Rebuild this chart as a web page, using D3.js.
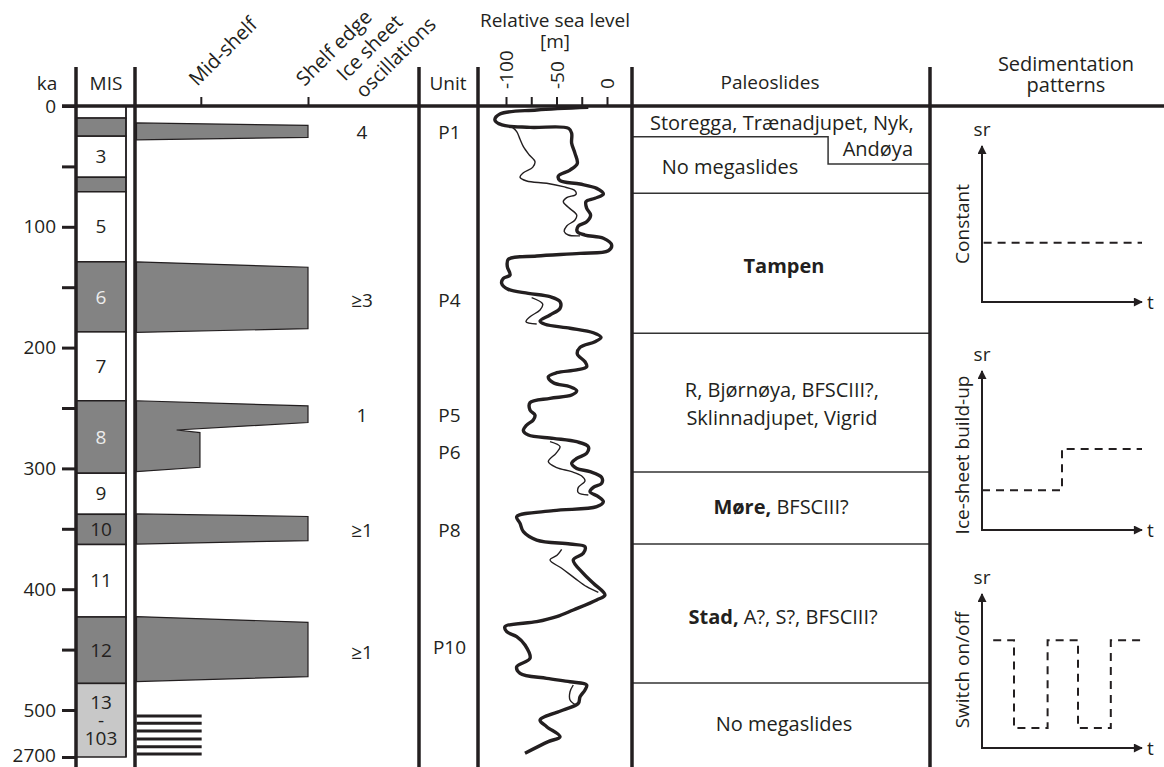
<!DOCTYPE html>
<html>
<head>
<meta charset="utf-8">
<title>Ice sheet, sea level and paleoslides</title>
<style>
  body { margin: 0; background: #fff; }
  text { font-family: "Open Sans", sans-serif; fill: #231f20; }
</style>
</head>
<body>
<div id="chart"></div>
<script src="https://cdnjs.cloudflare.com/ajax/libs/d3/7.8.5/d3.min.js"></script>
<script>

// ---- data ----

// age axis (ka)
var kaTicks = [0, 100, 200, 300, 400, 500, 2700];
var kaMinorTicks = [50, 150, 250, 350, 450];

// marine isotope stages: boundaries (ka), labels, glacial flag
var misBounds = [0, 10, 25, 59, 71, 129, 187, 244, 304, 338, 363, 423, 478, 2700];
var misLabels = ["", "", "3", "", "5", "6", "7", "8", "9", "10", "11", "12", "13|-|103"];
var misKind = ["warm", "cold", "warm", "cold", "warm", "cold", "warm", "cold", "warm", "cold", "warm", "cold", "old"];

// ice sheet extent (0 = inner shelf, 100 = shelf edge) vs ka
var extentTicks = [37.5, 100];
var extentTickLabels = ["Mid-shelf", "Shelf edge"];
var iceExtent = [
  [[0, 14], [100, 16], [100, 26], [0, 28]],
  [[0, 129], [100, 133.5], [100, 184.3], [0, 187.4]],
  [[0, 244], [100, 248.3], [100, 262], [23.4, 268.2], [37, 270.4], [37, 299.1], [0, 302.7]],
  [[0, 337.7], [100, 339.8], [100, 359.8], [0, 362.6]],
  [[0, 422.7], [100, 427.4], [100, 472.4], [0, 476.5]]
];
var olderGlaciations = [780, 1120, 1480, 1860, 2220, 2560];
var olderExtent = 38;

var oscLabels = ["4", "\u22653", "1", "\u22651", "\u22651"];
var oscKa = [22, 160.5, 256, 351, 452];

var unitLabels = ["P1", "P4", "P5", "P6", "P8", "P10"];
var unitKa = [22, 160.5, 256, 286.5, 351.5, 448];

// relative sea level [ka, m]
var seaLevelTicks = [-100, -75, -50, -25, 0];
var seaLevelMain = [
  [1.1, -18.5], [3.3, -69.6], [6.6, -106], [11.6, -111], [15.7, -104], [17.7, -76], [18.5, -38],
  [22.6, -35], [30.9, -35], [39.2, -31.7], [47.5, -29.4], [53, -36.6], [58, -48.2], [61.8, -46.5],
  [64.6, -26.7], [68.2, -10.2], [72.8, -3.6], [76.4, -11.9], [79.2, -20.8], [84.7, -20.1],
  [90.2, -16.2], [95.8, -20.1], [99.3, -28.4], [104, -29.4], [106.8, -21.8], [109.5, -3.6],
  [115.1, 4.6], [119.8, 1.3], [122, -26.7], [124.2, -69.6], [126.9, -97.7], [133, -98.7],
  [139.9, -96], [142.7, -102.6], [146.8, -104.3], [151.8, -97.7], [155.1, -77.9], [157.9, -56.4],
  [162, -46.5], [167.5, -46.5], [173, -56.4], [178, -66.3], [180.7, -61.4], [184, -36.6],
  [187.7, -13.5], [191.5, -5.9], [195.1, -11.9], [199.8, -26.7], [205.3, -29.4], [211.7, -21.8],
  [215.8, -20.1], [218.5, -30], [220.8, -49.8], [224.1, -58.1], [229.1, -53.1], [232.4, -36.6],
  [235.7, -30], [239.2, -35], [242, -56.4], [245.6, -76.2], [251.7, -76.2], [255.8, -71.3],
  [259.9, -73], [264.1, -79.5], [268.8, -82.8], [272.4, -77.9], [275.1, -53.1], [277.9, -30],
  [282, -18.5], [287.5, -20.1], [291.7, -30], [295.8, -35], [300, -30], [302.7, -16.8],
  [307.4, -5.3], [312.4, -5.3], [315.7, -13.5], [319.3, -16.8], [323.4, -8.6], [327.5, -3.6],
  [331.7, -10.2], [335, -53.1], [340, -89.4], [345.5, -86.1], [352.4, -82.8], [359.3, -69.6],
  [362.6, -36.6], [364.8, -21.8], [370.3, -23.5], [375.8, -33.4], [386.9, -23.5], [395.1, -13.5],
  [404.8, -2], [408.9, -10.2], [417.2, -33.4], [422.7, -49.8], [426.9, -69.6], [431, -101],
  [435.2, -99.3], [439.3, -89.4], [446.2, -81.2], [457.2, -76.2], [464.2, -89.4], [469.6, -86.1],
  [473.8, -59.7], [476.6, -36.6], [479.3, -20.1], [483.4, -21.8], [489, -26.7], [494.5, -28.4],
  [500, -43.3], [508.3, -66.3], [513.8, -59.7], [522.1, -46.5], [526.2, -58.1], [535.8, -81.2]
];
// second record, drawn in pieces (null = gap)
var seaLevelAlt = [
  [17.1, -94.4], [21.2, -89.4], [27.6, -86.1], [33.7, -82.8], [40.6, -76.9], [46.1, -71.3],
  [50.8, -73.6], [55.2, -82.8], [59, -86.1], [62.1, -79.5], [64, -59.7], [66.8, -43.3],
  [70.1, -31.7], [73.1, -30.7], [75.9, -39.9], [79.2, -43.3], [83.9, -38.3], [90.2, -30],
  [94.4, -31.7], [99.3, -39.9], [104, -42.3], [106.8, -38.3], [107.5, -26.7],
  null,
  [158.7, -74.6], [163.9, -63.7], [168.9, -66.3], [174.4, -76.2], [178.6, -80.2], [180.5, -69.6],
  null,
  [277.9, -56.4], [282, -46.5], [287.5, -50.5], [294.4, -58.1], [299.4, -49.8], [302.7, -35],
  [306.3, -25], [310.4, -21.8], [315.7, -28.4], [320.1, -28.4], [322, -18.5],
  null,
  [367, -44.9], [371.7, -49.2], [375.8, -56.4], [382.7, -44.9], [391, -31.7], [397.9, -20.1],
  [402.6, -8.6],
  null,
  [479.3, -33.4], [484.9, -36.6], [491.7, -36.6], [495.9, -30.7]
];

// paleoslides
var slideNames = ["Storegga, Tr\u00e6nadjupet, Nyk,", "And\u00f8ya", "No megaslides", "Tampen",
  "R, Bj\u00f8rn\u00f8ya, BFSCIII?,", "Sklinnadjupet, Vigrid", "M\u00f8re, BFSCIII?",
  "Stad, A?, S?, BFSCIII?", "No megaslides"];
var slideBold = ["", "", "", "Tampen", "", "", "M\u00f8re,", "Stad,", ""];
var slideKa = [19.9, 41.4, 56.3, 138.2, 240.9, 264.1, 337.7, 428.8, 517.4];
var slideBounds = [72.3, 188.2, 303, 362.6, 477.6];
var slideStep = [[0, 25.4], [0.658, 25.4], [0.658, 48], [1, 48]];

// sedimentation pattern sketches [t, sr]
var sedTitles = ["Constant", "Ice-sheet build-up", "Switch on/off"];
var sedConstant = [[0.1, 3.8], [10, 3.8]];
var sedBuildUp = [[0, 2.5], [5, 2.5], [5, 5.1], [10, 5.1]];
var sedSwitch = [[0.7, 7], [2, 7], [2, 1.3], [4.1, 1.3], [4.1, 7], [6, 7], [6, 1.3], [8.05, 1.3], [8.05, 7], [10, 7]];

// ---- layout ----
var W = 1164, H = 767;
var ink = "#231f20";
var fs = 19;

var colKa = 76, colMisR = 126, colIce = 135, colUnit = 419, colSea = 478, colSlide = 632, colSed = 930;
var headTop = 67;

var svg = d3.select("#chart").append("svg")
  .attr("width", W)
  .attr("height", H);

var kaAxisScale = d3.scaleLinear().domain([0, 500, 2700]).range([106, 710, 757]);
var kaLin = d3.scaleLinear().domain([0, 500]).range([106, 710]);
var extentX = d3.scaleLinear().domain([0, 100]).range([136.5, 308]);
var seaX = d3.scaleLinear().domain([-100, 0]).range([506, 607]);
var slideX = d3.scaleLinear().domain([0, 1]).range([colSlide, colSed]);

// MIS column
var misG = svg.append("g");
var misCells = misKind.map(function (k, i) {
  return { kind: k, label: misLabels[i], top: misBounds[i], bottom: misBounds[i + 1] };
});
misG.selectAll("rect")
  .data(misCells)
  .enter().append("rect")
  .attr("x", colKa)
  .attr("width", colMisR - colKa)
  .attr("y", function (d) { return kaAxisScale(d.top); })
  .attr("height", function (d) { return kaAxisScale(d.bottom) - kaAxisScale(d.top); })
  .attr("fill", function (d) { return d.kind === "cold" ? "#838383" : d.kind === "old" ? "#c8c8c8" : "#fff"; })
  .attr("stroke", ink)
  .attr("stroke-width", 1.5);

misG.selectAll("text")
  .data(misCells.filter(function (d) { return d.label; }))
  .enter().append("text")
  .attr("x", (colKa + colMisR) / 2)
  .attr("y", function (d) { return (kaAxisScale(d.top) + kaAxisScale(d.bottom)) / 2; })
  .attr("text-anchor", "middle")
  .attr("dy", "0.35em")
  .style("font-size", fs + "px")
  .style("fill", function (d) { return (d.label === "6" || d.label === "8") ? "#ececec" : ink; })
  .each(function (d) {
    var parts = d.label.split("|");
    if (parts.length === 1) { d3.select(this).text(d.label); return; }
    var t = d3.select(this);
    parts.forEach(function (p, j) {
      t.append("tspan").attr("x", (colKa + colMisR) / 2)
        .attr("y", (kaAxisScale(d.top) + kaAxisScale(d.bottom)) / 2 + (j - 1) * 18)
        .attr("dy", "0.35em")
        .text(p);
    });
  });

// ice sheet extent bars
var bar = d3.line().x(function (d) { return extentX(d[0]); }).y(function (d) { return kaLin(d[1]); });
svg.append("g").selectAll("path")
  .data(iceExtent)
  .enter().append("path")
  .attr("d", function (d) { return bar(d) + "Z"; })
  .attr("fill", "#838383")
  .attr("stroke", ink)
  .attr("stroke-width", 1.2);

svg.append("g").selectAll("line")
  .data(olderGlaciations)
  .enter().append("line")
  .attr("x1", extentX(0)).attr("x2", extentX(olderExtent))
  .attr("y1", function (d) { return kaAxisScale(d); })
  .attr("y2", function (d) { return kaAxisScale(d); })
  .attr("stroke", ink)
  .attr("stroke-width", 3);

// oscillation counts and units
svg.append("g").selectAll("text")
  .data(oscLabels)
  .enter().append("text")
  .attr("x", 362)
  .attr("y", function (d, i) { return kaLin(oscKa[i]); })
  .attr("dy", "0.35em")
  .attr("text-anchor", "middle")
  .style("font-size", fs + "px")
  .text(function (d) { return d; });

svg.append("g").selectAll("text")
  .data(unitLabels)
  .enter().append("text")
  .attr("x", (colUnit + colSea) / 2 + 1)
  .attr("y", function (d, i) { return kaLin(unitKa[i]); })
  .attr("dy", "0.35em")
  .attr("text-anchor", "middle")
  .style("font-size", fs + "px")
  .text(function (d) { return d; });

// relative sea level curves
var seaLine = d3.line()
  .defined(function (d) { return d !== null; })
  .x(function (d) { return seaX(d[1]); })
  .y(function (d) { return kaLin(d[0]); })
  .curve(d3.curveCatmullRom.alpha(0.5));

svg.append("path")
  .datum(seaLevelAlt)
  .attr("d", seaLine)
  .attr("fill", "none")
  .attr("stroke", ink)
  .attr("stroke-width", 1.4);

svg.append("path")
  .datum(seaLevelMain)
  .attr("d", seaLine)
  .attr("fill", "none")
  .attr("stroke", ink)
  .attr("stroke-width", 3.4)
  .attr("stroke-linejoin", "round");

// paleoslide dividers and names
svg.append("g").selectAll("line")
  .data(slideBounds)
  .enter().append("line")
  .attr("x1", colSlide).attr("x2", colSed)
  .attr("y1", function (d) { return kaLin(d); })
  .attr("y2", function (d) { return kaLin(d); })
  .attr("stroke", "#333")
  .attr("stroke-width", 1.5);

svg.append("path")
  .datum(slideStep)
  .attr("d", d3.line().x(function (d) { return slideX(d[0]); }).y(function (d) { return kaLin(d[1]); }))
  .attr("fill", "none")
  .attr("stroke", "#333")
  .attr("stroke-width", 1.5);

var slideTextX = [0.503, 0.943, 0.329, 0.51, 0.503, 0.503, 0.5, 0.507, 0.51];
var slideTextAnchor = ["middle", "end", "middle", "middle", "middle", "middle", "middle", "middle", "middle"];
svg.append("g").selectAll("text")
  .data(slideNames)
  .enter().append("text")
  .attr("x", function (d, i) { return slideX(slideTextX[i]); })
  .attr("y", function (d, i) { return kaLin(slideKa[i]); })
  .attr("text-anchor", function (d, i) { return slideTextAnchor[i]; })
  .style("font-size", "20px")
  .each(function (d, i) {
    var t = d3.select(this);
    var b = slideBold[i];
    if (b) t.append("tspan").style("font-weight", "bold").text(b);
    var rest = d.slice(b.length);
    if (rest) t.append("tspan").text(rest);
  });

// ---- frame ----
var frame = svg.append("g").attr("stroke", ink).attr("stroke-width", 3.5);
frame.append("line").attr("x1", 62).attr("x2", W).attr("y1", kaAxisScale(0)).attr("y2", kaAxisScale(0));
[colKa, colIce, colUnit, colSea, colSlide, colSed].forEach(function (x) {
  frame.append("line").attr("x1", x).attr("x2", x).attr("y1", headTop).attr("y2", H);
});
svg.append("line")
  .attr("x1", colMisR).attr("x2", colMisR)
  .attr("y1", kaAxisScale(0)).attr("y2", kaAxisScale(2700))
  .attr("stroke", ink).attr("stroke-width", 1.5);

// ka axis
var kaAxis = svg.append("g")
  .attr("transform", "translate(" + colKa + ",0)")
  .call(d3.axisLeft(kaAxisScale).tickValues(kaTicks).tickSize(14).tickPadding(6)
    .tickFormat(function (d) { return d; }));
var kaMinor = svg.append("g")
  .attr("transform", "translate(" + colKa + ",0)")
  .call(d3.axisLeft(kaAxisScale).tickValues(kaMinorTicks).tickSize(14).tickFormat(""));
[kaAxis, kaMinor].forEach(function (g) {
  g.select(".domain").remove();
  g.selectAll(".tick line").attr("stroke", ink).attr("stroke-width", 3);
});
kaAxis.selectAll(".tick text")
  .style("font-family", "'Open Sans', sans-serif")
  .style("font-size", fs + "px")
  .attr("fill", ink)
  .attr("dy", function (d) { return d === 2700 ? "0.25em" : "0.32em"; });

// sea level axis
var seaAxis = svg.append("g")
  .attr("transform", "translate(0," + kaLin(0) + ")")
  .call(d3.axisTop(seaX).tickValues(seaLevelTicks).tickSize(9)
    .tickFormat(function (d) { return d % 50 === 0 ? String(d) : ""; }));
seaAxis.select(".domain").remove();
seaAxis.selectAll(".tick line").attr("stroke", ink).attr("stroke-width", 2);
seaAxis.selectAll(".tick text")
  .attr("y", null)
  .attr("dy", "0.35em")
  .attr("transform", "translate(0,-17) rotate(-90)")
  .attr("text-anchor", "start")
  .style("font-family", "'Open Sans', sans-serif")
  .style("font-size", fs + "px")
  .attr("fill", ink);

// ice extent axis
var extAxis = svg.append("g")
  .attr("transform", "translate(0," + kaLin(0) + ")")
  .call(d3.axisTop(extentX).tickValues(extentTicks).tickSize(9)
    .tickFormat(function (d, i) { return extentTickLabels[i]; }));
extAxis.select(".domain").remove();
extAxis.selectAll(".tick line").attr("stroke", ink).attr("stroke-width", 2);
extAxis.selectAll(".tick text")
  .attr("y", null)
  .attr("dy", null)
  .attr("transform", "translate(-4,-19) rotate(-45)")
  .attr("text-anchor", "start")
  .style("font-family", "'Open Sans', sans-serif")
  .style("font-size", "20px")
  .attr("fill", ink);

// ---- headers ----
function label(x, y, txt, opts) {
  opts = opts || {};
  return svg.append("text")
    .attr("transform", "translate(" + x + "," + y + ")" + (opts.rotate ? " rotate(" + opts.rotate + ")" : ""))
    .attr("text-anchor", opts.anchor || "middle")
    .attr("dy", opts.dy || null)
    .style("font-size", (opts.size || fs) + "px")
    .text(txt);
}
label(47, 90, "ka");
label(106, 90, "MIS");
label(448, 90, "Unit");
label(555, 27, "Relative sea level");
label(555, 48, "[m]");
label(770, 89, "Paleoslides");
label(1066, 71, "Sedimentation", { size: 20 });
label(1066, 92, "patterns", { size: 20 });
label(345, 82, "Ice sheet", { anchor: "start", rotate: -45, size: 20 });
label(364, 99, "oscillations", { anchor: "start", rotate: -45, size: 20 });

// ---- sedimentation pattern sketches ----
var defs = svg.append("defs");
defs.append("marker")
  .attr("id", "arrow")
  .attr("viewBox", "0 0 10 10")
  .attr("refX", 9).attr("refY", 5)
  .attr("markerWidth", 10).attr("markerHeight", 9)
  .attr("markerUnits", "userSpaceOnUse")
  .attr("orient", "auto")
  .append("path")
  .attr("d", "M0,0L10,5L0,10Z")
  .attr("fill", ink);

var sedData = [sedConstant, sedBuildUp, sedSwitch];
var sedTop = [146, 371, 594];
var sedBottom = [302, 530, 748];
var sedTitleY = [224, 455, 670];
var sedX = d3.scaleLinear().domain([0, 10]).range([982, 1142]);

sedData.forEach(function (data, i) {
  var sy = d3.scaleLinear().domain([0, 10]).range([sedBottom[i], sedTop[i]]);
  var g = svg.append("g");
  g.append("line")
    .attr("x1", sedX(0)).attr("x2", sedX(0))
    .attr("y1", sy(0)).attr("y2", sy(10))
    .attr("stroke", ink).attr("stroke-width", 2)
    .attr("marker-end", "url(#arrow)");
  g.append("line")
    .attr("x1", sedX(0) - 1).attr("x2", sedX(10))
    .attr("y1", sy(0)).attr("y2", sy(0))
    .attr("stroke", ink).attr("stroke-width", 2)
    .attr("marker-end", "url(#arrow)");
  g.append("path")
    .datum(data)
    .attr("d", d3.line().x(function (d) { return sedX(d[0]); }).y(function (d) { return sy(d[1]); }))
    .attr("fill", "none")
    .attr("stroke", ink)
    .attr("stroke-width", 2)
    .attr("stroke-dasharray", "8,6");
  g.append("text")
    .attr("x", sedX(0)).attr("y", sy(10) - 10)
    .attr("text-anchor", "middle")
    .style("font-size", fs + "px")
    .text("sr");
  g.append("text")
    .attr("x", sedX(10) + 5).attr("y", sy(0))
    .attr("dy", "0.35em")
    .style("font-size", fs + "px")
    .text("t");
  g.append("text")
    .attr("transform", "translate(962," + sedTitleY[i] + ") rotate(-90)")
    .attr("text-anchor", "middle")
    .attr("dy", "0.35em")
    .style("font-size", fs + "px")
    .text(sedTitles[i]);
});

</script>
</body>
</html>
